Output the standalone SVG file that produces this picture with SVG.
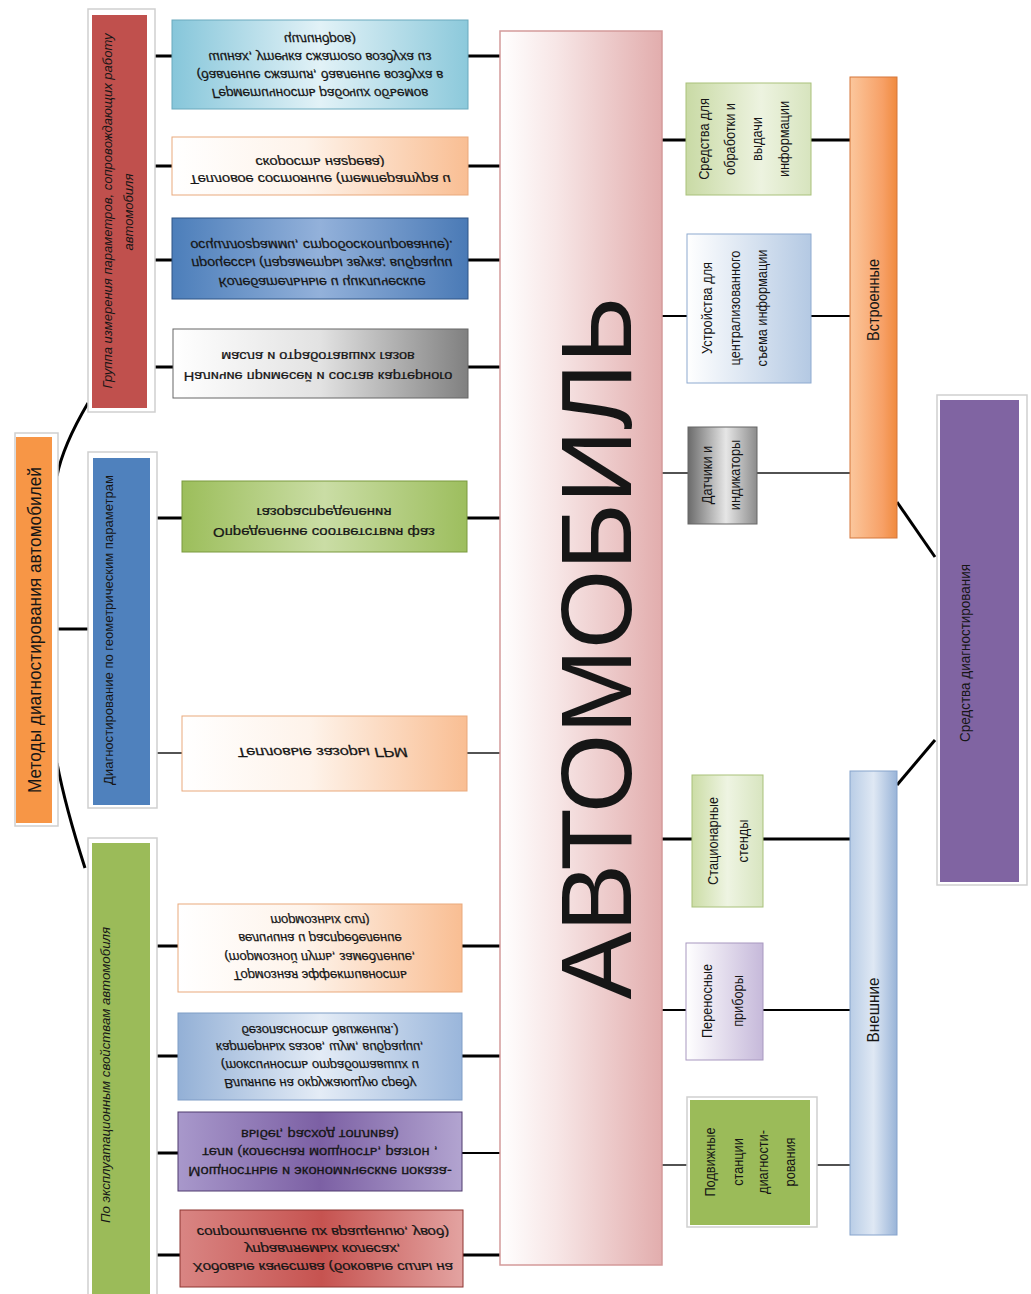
<svg xmlns="http://www.w3.org/2000/svg" width="1031" height="1294" viewBox="0 0 1031 1294">
<defs>
<linearGradient id="gTeal" x1="0" y1="0" x2="1" y2="0"><stop offset="0" stop-color="#86C6DA"/><stop offset="0.5" stop-color="#E2F2F7"/><stop offset="1" stop-color="#8CC9DB"/></linearGradient>
<linearGradient id="gPeach" x1="0" y1="0" x2="1" y2="0"><stop offset="0" stop-color="#FFFFFF"/><stop offset="0.45" stop-color="#FEF3EA"/><stop offset="1" stop-color="#F9BE93"/></linearGradient>
<linearGradient id="gBlue" x1="0" y1="0" x2="1" y2="0"><stop offset="0" stop-color="#4C7EBA"/><stop offset="0.5" stop-color="#93B1DA"/><stop offset="1" stop-color="#4A7AB6"/></linearGradient>
<linearGradient id="gGray" x1="0" y1="0" x2="1" y2="0"><stop offset="0" stop-color="#FFFFFF"/><stop offset="0.5" stop-color="#E2E2E2"/><stop offset="1" stop-color="#808080"/></linearGradient>
<linearGradient id="gGreen" x1="0" y1="0" x2="1" y2="0"><stop offset="0" stop-color="#9CBE5B"/><stop offset="0.5" stop-color="#CADDA5"/><stop offset="1" stop-color="#9DBE5E"/></linearGradient>
<linearGradient id="gLBlue" x1="0" y1="0" x2="1" y2="0"><stop offset="0" stop-color="#93B0D6"/><stop offset="0.5" stop-color="#E4ECF6"/><stop offset="1" stop-color="#9AB6DB"/></linearGradient>
<linearGradient id="gPurple" x1="0" y1="0" x2="1" y2="0"><stop offset="0" stop-color="#A898CB"/><stop offset="0.5" stop-color="#7C60A4"/><stop offset="1" stop-color="#B2A4D0"/></linearGradient>
<linearGradient id="gRed" x1="0" y1="0" x2="1" y2="0"><stop offset="0" stop-color="#D98583"/><stop offset="0.5" stop-color="#C65350"/><stop offset="1" stop-color="#E3A3A1"/></linearGradient>
<linearGradient id="gAuto" x1="0" y1="0" x2="1" y2="0"><stop offset="0" stop-color="#FFFFFF"/><stop offset="0.35" stop-color="#F7E6E6"/><stop offset="1" stop-color="#E2ADAD"/></linearGradient>
<linearGradient id="gA" x1="0" y1="0" x2="1" y2="0"><stop offset="0" stop-color="#C9DAA5"/><stop offset="0.6" stop-color="#EDF3E0"/><stop offset="1" stop-color="#D7E4BE"/></linearGradient>
<linearGradient id="gB" x1="0" y1="0" x2="1" y2="0"><stop offset="0" stop-color="#FFFFFF"/><stop offset="1" stop-color="#B4C9E3"/></linearGradient>
<linearGradient id="gC" x1="0" y1="0" x2="1" y2="0"><stop offset="0" stop-color="#6B6B6B"/><stop offset="0.55" stop-color="#E6E6E6"/><stop offset="1" stop-color="#8C8C8C"/></linearGradient>
<linearGradient id="gD" x1="0" y1="0" x2="1" y2="0"><stop offset="0" stop-color="#CCDDA6"/><stop offset="0.5" stop-color="#EEF4E2"/><stop offset="1" stop-color="#D8E5C0"/></linearGradient>
<linearGradient id="gE" x1="0" y1="0" x2="1" y2="0"><stop offset="0" stop-color="#FFFFFF"/><stop offset="1" stop-color="#C6B9DA"/></linearGradient>
<linearGradient id="gOrange" x1="0" y1="0" x2="1" y2="0"><stop offset="0" stop-color="#FBC79D"/><stop offset="0.7" stop-color="#F7A066"/><stop offset="1" stop-color="#F08A3E"/></linearGradient>
<linearGradient id="gExt" x1="0" y1="0" x2="1" y2="0"><stop offset="0" stop-color="#B9CDE6"/><stop offset="0.5" stop-color="#DFE8F4"/><stop offset="1" stop-color="#99B4D8"/></linearGradient>
<style>
.c3{stroke:#000;stroke-width:3;fill:none}
.c2{stroke:#000;stroke-width:2;fill:none}
.c1{stroke:#1a1a1a;stroke-width:1.5;fill:none}
.frame{fill:#fff;stroke:#cfcfcf;stroke-width:1.5}
.t{font-family:"Liberation Sans",Arial,sans-serif;fill:#161616}
.it{font-style:italic}
.d{font-size:13px;text-anchor:middle;stroke:#161616;stroke-width:0.25}
.r{font-size:15px;text-anchor:middle}
</style>
</defs>
<rect width="1031" height="1294" fill="#fff"/>

<g id="connectors">
<path class="c3" d="M152,56H172M152,166H172M152,260H172M152,367H173"/>
<path class="c3" d="M157,518H182"/>
<path class="c1" d="M157,753H182"/>
<path class="c3" d="M157,946H178M157,1056H178M157,1153H178M157,1255H180"/>
<path class="c3" d="M468,56H500M468,166H500M468,260H500M468,367H500M466,518H500"/>
<path class="c1" d="M466,753H500"/>
<path class="c3" d="M462,946H500M462,1056H500M463,1255H500"/>
<path class="c2" d="M462,1153H500"/>
<path class="c3" d="M57,629H88"/>
<path class="c3" d="M57,476C62,450 78,420 88,403"/>
<path class="c3" d="M57,763C64,800 76,840 85,868"/>
<path class="c3" d="M662,140H686M811,140H850"/>
<path class="c2" d="M662,316H687M811,316H850"/>
<path class="c1" d="M662,473H688M757,473H850"/>
<path class="c3" d="M662,839H692M763,839H850"/>
<path class="c2" d="M662,1010H686M763,1010H850"/>
<path class="c1" d="M662,1165H688M817,1165H850" stroke="#333"/>
<path class="c3" d="M897,502L935,557"/>
<path class="c3" d="M897,785L935,740"/>
</g>

<g id="methods">
<rect class="frame" x="15" y="433" width="43" height="393"/>
<rect x="16" y="437" width="36" height="386" fill="#F79646"/>
<text class="t" transform="translate(41,630) rotate(-90)" font-size="18" text-anchor="middle" textLength="326" lengthAdjust="spacingAndGlyphs">Методы диагностирования автомобилей</text>
</g>

<g id="cat-measure">
<rect class="frame" x="88" y="9" width="67" height="403"/>
<rect x="92" y="15" width="55" height="393" fill="#C0504D"/>
<text class="t it" transform="translate(112,211) rotate(-90)" font-size="13" text-anchor="middle" textLength="355" lengthAdjust="spacingAndGlyphs">Группа измерения параметров, сопровождающих работу</text>
<text class="t it" transform="translate(133,212) rotate(-90)" font-size="13" text-anchor="middle">автомобиля</text>
</g>

<g id="cat-geom">
<rect class="frame" x="88" y="452" width="69" height="356"/>
<rect x="93" y="458" width="57" height="347" fill="#4F81BD"/>
<text class="t" transform="translate(113,630) rotate(-90)" font-size="13.5" text-anchor="middle" textLength="310" lengthAdjust="spacingAndGlyphs">Диагностирование по геометрическим параметрам</text>
</g>

<g id="cat-exploit">
<rect class="frame" x="88" y="838" width="69" height="470"/>
<rect x="92" y="843" width="58" height="460" fill="#9BBB59"/>
<text class="t it" transform="translate(110,1075) rotate(-90)" font-size="13.5" text-anchor="middle" textLength="296" lengthAdjust="spacingAndGlyphs">По эксплуатационным свойствам автомобиля</text>
</g>

<g id="box-hermetic">
<rect x="172" y="20" width="296" height="89" fill="url(#gTeal)" stroke="#6BA9BD"/>
<text class="t it d" font-size="12.5" transform="translate(320,65) scale(1.04,-1)"><tspan x="0" y="-24">Герметичность рабочих объемов</tspan><tspan x="0" y="-6">(давление сжатия, давление воздуха в</tspan><tspan x="0" y="12">шинах, утечка сжатого воздуха из</tspan><tspan x="0" y="30">цилиндров)</tspan></text>
</g>

<g id="box-thermal">
<rect x="172" y="137" width="296" height="58" fill="url(#gPeach)" stroke="#E9A97C"/>
<text class="t it d" font-size="13.5" transform="translate(320,166) scale(1.12,-1)"><tspan x="0" y="-9.5">Тепловое состояние (температура и</tspan><tspan x="0" y="7.5">скорость нагрева)</tspan></text>
</g>

<g id="box-vibration">
<rect x="172" y="218" width="296" height="81" fill="url(#gBlue)" stroke="#2F5586"/>
<text class="t it d" font-size="13" transform="translate(322,258) scale(1.09,-1)"><tspan x="0" y="-20">Колебательные и циклические</tspan><tspan x="0" y="-1">процессы (параметры звука; вибрации</tspan><tspan x="0" y="17">осциллограмми, стробоскопирование).</tspan></text>
</g>

<g id="box-impurities">
<rect x="173" y="329" width="295" height="69" fill="url(#gGray)" stroke="#666"/>
<text class="t d" font-size="13.5" transform="translate(318,363) scale(1.12,-1)"><tspan x="0" y="-9.5">Наличие примесей и состав картерного</tspan><tspan x="0" y="10.5">масла и отработавших газов</tspan></text>
</g>

<g id="box-phases">
<rect x="182" y="481" width="285" height="71" fill="url(#gGreen)" stroke="#7A9A3E"/>
<text class="t d" font-size="14" transform="translate(324,516) scale(1.15,-1)"><tspan x="0" y="-12.4">Определение соответствия фаз</tspan><tspan x="0" y="7.6">газораспределения</tspan></text>
</g>

<g id="box-gaps">
<rect x="182" y="716" width="285" height="75" fill="url(#gPeach)" stroke="#E9A97C"/>
<text class="t it d" font-size="14.5" transform="translate(322,753) scale(1.25,-1)"><tspan x="0" y="4.8">Тепловые зазоры ГРМ</tspan></text>
</g>

<g id="box-brakes">
<rect x="178" y="904" width="284" height="88" fill="url(#gPeach)" stroke="#E9A97C"/>
<text class="t it d" font-size="13" transform="translate(320,947) scale(1,-1)"><tspan x="0" y="-23.7">Тормозная эффективность</tspan><tspan x="0" y="-5.7">(тормозной путь, замедление,</tspan><tspan x="0" y="13.3">величина и распределение</tspan><tspan x="0" y="31.3">тормозных сил)</tspan></text>
</g>

<g id="box-environment">
<rect x="178" y="1013" width="284" height="87" fill="url(#gLBlue)" stroke="#7F9DC6"/>
<text class="t it d" font-size="12.5" transform="translate(320,1056) scale(1,-1)"><tspan x="0" y="-22.9">Влияние на окружающую среду</tspan><tspan x="0" y="-4.9">(токсичность отработавших и</tspan><tspan x="0" y="13.1">картерных газов, шум, вибрации,</tspan><tspan x="0" y="30.1">безопасность движения.)</tspan></text>
</g>

<g id="box-power">
<rect x="178" y="1112" width="284" height="79" fill="url(#gPurple)" stroke="#4E3A6E"/>
<text class="t d" font-size="14" transform="translate(320,1152) scale(1.13,-1)"><tspan x="0" y="-15.4">Мощностные и экономические показа-</tspan><tspan x="0" y="3.6">тели (колесная мощность, разгон ,</tspan><tspan x="0" y="21.6">выбег, расход топлива)</tspan></text>
</g>

<g id="box-running">
<rect x="180" y="1210" width="283" height="77" fill="url(#gRed)" stroke="#8E3431"/>
<text class="t it d" font-size="13.5" transform="translate(323,1248) scale(1.15,-1)"><tspan x="0" y="-15">Ходовые качества (боковые силы на</tspan><tspan x="0" y="3">управляемых колесах,</tspan><tspan x="0" y="20">сопротивление их вращению, увод)</tspan></text>
</g>

<g id="automobile">
<rect x="500" y="31" width="162" height="1234" fill="url(#gAuto)" stroke="#D49A9A" stroke-width="1.5"/>
<text class="t" transform="translate(631,648) rotate(-90)" font-size="100" text-anchor="middle" textLength="703" lengthAdjust="spacingAndGlyphs" fill="#000">АВТОМОБИЛЬ</text>
</g>

<g id="r-processing">
<rect x="686" y="83" width="125" height="112" fill="url(#gA)" stroke="#A9C17A"/>
<text class="t r" transform="translate(748,139) rotate(-90) scale(0.85,1)"><tspan x="0" y="-39">Средства для</tspan><tspan x="0" y="-13">обработки и</tspan><tspan x="0" y="14">выдачи</tspan><tspan x="0" y="41">информации</tspan></text>
</g>

<g id="r-central">
<rect x="687" y="234" width="124" height="149" fill="url(#gB)" stroke="#8EAAD0"/>
<text class="t r" transform="translate(749,308) rotate(-90) scale(0.85,1)"><tspan x="0" y="-37">Устройства для</tspan><tspan x="0" y="-9">централизованного</tspan><tspan x="0" y="18">съема информации</tspan></text>
</g>

<g id="r-sensors">
<rect x="688" y="427" width="69" height="97" fill="url(#gC)" stroke="#666"/>
<text class="t r" transform="translate(722,475) rotate(-90) scale(0.85,1)"><tspan x="0" y="-10">Датчики и</tspan><tspan x="0" y="18">индикаторы</tspan></text>
</g>

<g id="r-stands">
<rect x="692" y="775" width="71" height="132" fill="url(#gD)" stroke="#A9C17A"/>
<text class="t r" transform="translate(727,841) rotate(-90) scale(0.85,1)"><tspan x="0" y="-9">Стационарные</tspan><tspan x="0" y="21">стенды</tspan></text>
</g>

<g id="r-portable">
<rect x="686" y="943" width="77" height="117" fill="url(#gE)" stroke="#A898C0"/>
<text class="t r" transform="translate(724,1001) rotate(-90) scale(0.85,1)"><tspan x="0" y="-12">Переносные</tspan><tspan x="0" y="19">приборы</tspan></text>
</g>

<g id="r-mobile">
<rect class="frame" x="687" y="1097" width="130" height="130"/>
<rect x="690" y="1100" width="120" height="125" fill="#9BBB59"/>
<text class="t r" transform="translate(750,1162) rotate(-90) scale(0.85,1)"><tspan x="0" y="-35">Подвижные</tspan><tspan x="0" y="-7">станции</tspan><tspan x="0" y="18">диагности-</tspan><tspan x="0" y="45">рования</tspan></text>
</g>

<g id="builtin">
<rect x="850" y="77" width="47" height="461" fill="url(#gOrange)" stroke="#D5773A"/>
<text class="t" transform="translate(879,300) rotate(-90) scale(0.85,1)" font-size="17" text-anchor="middle">Встроенные</text>
</g>

<g id="external">
<rect x="850" y="771" width="47" height="464" fill="url(#gExt)" stroke="#86A3CC"/>
<text class="t" transform="translate(879,1010) rotate(-90) scale(0.9,1)" font-size="17" text-anchor="middle">Внешние</text>
</g>

<g id="diag-means">
<rect class="frame" x="937" y="395" width="90" height="490"/>
<rect x="940" y="400" width="79" height="482" fill="#8064A2"/>
<text class="t" transform="translate(970,653) rotate(-90)" font-size="14" text-anchor="middle" textLength="178" lengthAdjust="spacingAndGlyphs" fill="#1c1830">Средства диагностирования</text>
</g>
</svg>
